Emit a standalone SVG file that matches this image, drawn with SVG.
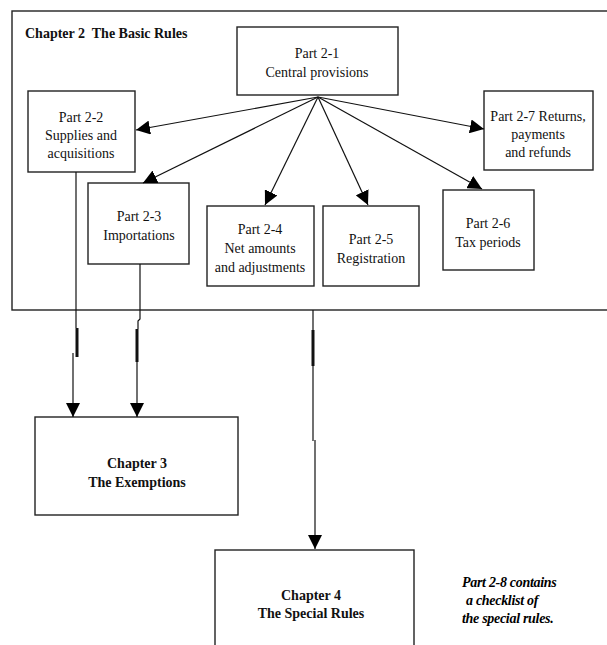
<svg xmlns="http://www.w3.org/2000/svg" width="607" height="645" viewBox="0 0 607 645">
<style>
.box{fill:#fff;stroke:#222;stroke-width:1.4}
.t{font-family:"Liberation Serif","Times New Roman","DejaVu Serif",serif;font-size:14px;fill:#111;text-anchor:middle}
.b{font-weight:bold}
.note{font-family:"Liberation Serif","Times New Roman","DejaVu Serif",serif;font-size:14px;font-weight:bold;font-style:italic;fill:#000;letter-spacing:-0.3px}
.c{fill:none;stroke:#111;stroke-width:1.2}
.k{fill:none;stroke:#111;stroke-width:3}
</style>
<defs>
<marker id="ah" markerUnits="userSpaceOnUse" markerWidth="14" markerHeight="14" refX="12" refY="6" orient="auto" viewBox="0 0 12 12">
<path d="M0,0 L12,6 L0,12 Z" fill="#000"/>
</marker>
</defs>
<g id="chapter2">
<rect class="box" x="12" y="11" width="620" height="299"/>
<text class="t b" x="25" y="38" style="text-anchor:start">Chapter 2&#160; The Basic Rules</text>
</g>
<g id="part2-1">
<rect class="box" x="237" y="27" width="161" height="68"/>
<text class="t" x="317" y="58">Part 2-1</text>
<text class="t" x="317" y="77">Central provisions</text>
</g>
<g id="part2-2">
<rect class="box" x="28" y="91" width="107" height="81"/>
<text class="t" x="81" y="122">Part 2-2</text>
<text class="t" x="81" y="140">Supplies and</text>
<text class="t" x="81" y="158">acquisitions</text>
</g>
<g id="part2-3">
<rect class="box" x="88" y="183" width="101" height="81"/>
<text class="t" x="139" y="221">Part 2-3</text>
<text class="t" x="139" y="240">Importations</text>
</g>
<g id="part2-4">
<rect class="box" x="207" y="206" width="107" height="80"/>
<text class="t" x="260" y="234">Part 2-4</text>
<text class="t" x="260" y="253">Net amounts</text>
<text class="t" x="260" y="272">and adjustments</text>
</g>
<g id="part2-5">
<rect class="box" x="323" y="206" width="96" height="80"/>
<text class="t" x="371" y="244">Part 2-5</text>
<text class="t" x="371" y="263">Registration</text>
</g>
<g id="part2-6">
<rect class="box" x="443" y="190" width="91" height="80"/>
<text class="t" x="488" y="228">Part 2-6</text>
<text class="t" x="488" y="247">Tax periods</text>
</g>
<g id="part2-7">
<rect class="box" x="484" y="91" width="109" height="79"/>
<text class="t" x="538" y="121">Part 2-7 Returns,</text>
<text class="t" x="538" y="139">payments</text>
<text class="t" x="538" y="157">and refunds</text>
</g>
<g id="chapter3">
<rect class="box" x="35" y="417" width="203" height="98"/>
<text class="t b" x="137" y="468">Chapter 3</text>
<text class="t b" x="137" y="487">The Exemptions</text>
</g>
<g id="chapter4">
<rect class="box" x="215" y="550" width="199" height="110"/>
<text class="t b" x="311" y="600">Chapter 4</text>
<text class="t b" x="311" y="618">The Special Rules</text>
</g>
<g id="note">
<text class="note" x="462" y="587">Part 2-8 contains</text>
<text class="note" x="466" y="605">a checklist of</text>
<text class="note" x="462" y="623">the special rules.</text>
</g>
<g id="connectors">
<line class="c" x1="318" y1="97" x2="136" y2="130" marker-end="url(#ah)"/>
<line class="c" x1="318" y1="97" x2="143" y2="183" marker-end="url(#ah)"/>
<line class="c" x1="318" y1="97" x2="265" y2="205" marker-end="url(#ah)"/>
<line class="c" x1="318" y1="97" x2="368" y2="205" marker-end="url(#ah)"/>
<line class="c" x1="318" y1="97" x2="482" y2="189" marker-end="url(#ah)"/>
<line class="c" x1="318" y1="97" x2="484" y2="129" marker-end="url(#ah)"/>
<polyline class="c" points="76,172 76,328"/>
<line class="k" x1="77" y1="328" x2="77" y2="357"/>
<line class="c" x1="73" y1="353" x2="73" y2="417" marker-end="url(#ah)"/>
<polyline class="c" points="140,264 140,319 138,321 138,329"/>
<line class="k" x1="137" y1="329" x2="137" y2="362"/>
<line class="c" x1="137" y1="362" x2="137" y2="417" marker-end="url(#ah)"/>
<line class="c" x1="313" y1="310" x2="313" y2="330"/>
<line class="k" x1="313" y1="330" x2="313" y2="366"/>
<line class="c" x1="313" y1="366" x2="313" y2="441"/>
<line class="c" x1="315" y1="440" x2="315" y2="549" marker-end="url(#ah)"/>
</g>
</svg>
